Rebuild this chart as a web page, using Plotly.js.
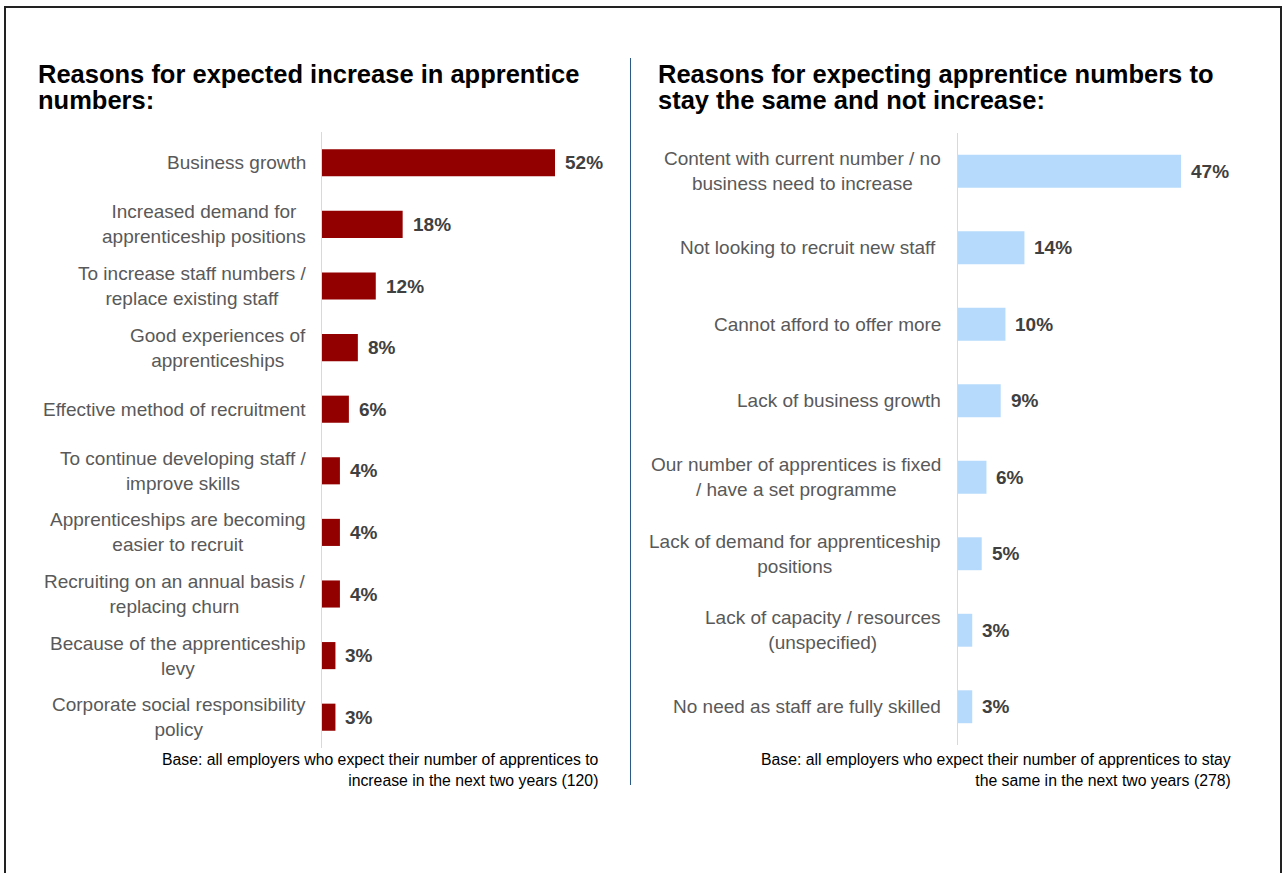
<!DOCTYPE html>
<html>
<head>
<meta charset="utf-8">
<script src="https://cdn.plot.ly/plotly-3.0.1.min.js"></script>
<style>
html,body{margin:0;padding:0;background:#fff;}
#chart{width:1283px;height:873px;}
</style>
</head>
<body>
<div id="chart"></div>
<script>
// ---- Data ----
var leftTitleLines = ["Reasons for expected increase in apprentice", "numbers:"];
var rightTitleLines = ["Reasons for expecting apprentice numbers to", "stay the same and not increase:"];

var leftCategories = [
  "Business growth",
  "Increased demand for<br>apprenticeship positions",
  "To increase staff numbers /<br>replace existing staff",
  "Good experiences of<br>apprenticeships",
  "Effective method of recruitment",
  "To continue developing staff /<br>improve skills",
  "Apprenticeships are becoming<br>easier to recruit",
  "Recruiting on an annual basis /<br>replacing churn",
  "Because of the apprenticeship<br>levy",
  "Corporate social responsibility<br>policy"
];
var leftValues = [52, 18, 12, 8, 6, 4, 4, 4, 3, 3];

var rightCategories = [
  "Content with current number / no<br>business need to increase",
  "Not looking to recruit new staff ",
  "Cannot afford to offer more",
  "Lack of business growth",
  "Our number of apprentices is fixed<br>/ have a set programme",
  "Lack of demand for apprenticeship<br>positions",
  "Lack of capacity / resources<br>(unspecified)",
  "No need as staff are fully skilled"
];
var rightValues = [47, 14, 10, 9, 6, 5, 3, 3];

var leftBase = "Base: all employers who expect their number of apprentices to<br>increase in the next two years (120)";
var rightBase = "Base: all employers who expect their number of apprentices to stay<br>the same in the next two years (278)";

// ---- Layout helpers ----
var W = 1283, H = 873;
function px(x){ return x / W; }
function py(y){ return 1 - y / H; }
var FONT = "Liberation Sans, Arial, Helvetica, sans-serif";

var traces = [
  {
    type: "bar", orientation: "h",
    x: leftValues, y: leftCategories,
    xaxis: "x", yaxis: "y",
    width: 0.44,
    marker: {color: "#930000"},
    hoverinfo: "skip"
  },
  {
    type: "bar", orientation: "h",
    x: rightValues, y: rightCategories,
    xaxis: "x2", yaxis: "y2",
    width: 0.43,
    marker: {color: "#B6DAFB"},
    hoverinfo: "skip"
  }
];

var annotations = [];

// titles
leftTitleLines.forEach(function(t, i){
  annotations.push({xref:"paper", yref:"paper", x:px(36), y:py(74 + i*26),
    xanchor:"left", yanchor:"middle", showarrow:false, text:"<b>"+t+"</b>",
    font:{family:FONT, size:25.5, color:"#000"}});
});
rightTitleLines.forEach(function(t, i){
  annotations.push({xref:"paper", yref:"paper", x:px(656), y:py(74 + i*26),
    xanchor:"left", yanchor:"middle", showarrow:false, text:"<b>"+t+"</b>",
    font:{family:FONT, size:25.5, color:"#000"}});
});

// category labels and value labels
function addLabels(cats, vals, xa, ya, labelX){
  cats.forEach(function(c, i){
    annotations.push({xref:"paper", yref:ya, x:px(labelX), y:c,
      xanchor:"right", yanchor:"middle", align:"center", showarrow:false,
      text:c, font:{family:FONT, size:19, color:"#595959"}});
    annotations.push({xref:xa, yref:ya, x:vals[i], y:c,
      xanchor:"left", yanchor:"middle", xshift:8, showarrow:false,
      text:"<b>"+vals[i]+"%</b>", font:{family:FONT, size:19, color:"#404040"}});
  });
}
addLabels(leftCategories, leftValues, "x", "y", 308);
addLabels(rightCategories, rightValues, "x2", "y2", 943);

// base notes
annotations.push({xref:"paper", yref:"paper", x:px(601), y:py(770),
  xanchor:"right", yanchor:"middle", align:"right", showarrow:false,
  text:leftBase, font:{family:FONT, size:15.8, color:"#000"}});
annotations.push({xref:"paper", yref:"paper", x:px(1233), y:py(770),
  xanchor:"right", yanchor:"middle", align:"right", showarrow:false,
  text:rightBase, font:{family:FONT, size:15.8, color:"#000"}});

var shapes = [
  // frame (left, top, right edges)
  {type:"path", xref:"paper", yref:"paper",
   path:"M " + px(5) + "," + py(880) + " L " + px(5) + "," + py(7) + " L " + px(1281) + "," + py(7) + " L " + px(1281) + "," + py(880),
   line:{color:"#222222", width:2}},
  // divider
  {type:"line", xref:"paper", yref:"paper", x0:px(630.5), x1:px(630.5), y0:py(58), y1:py(785),
   line:{color:"#2A5A86", width:1}}
];

var layout = {
  width: W, height: H,
  margin: {l:0, r:0, t:0, b:0},
  paper_bgcolor: "#fff", plot_bgcolor: "rgba(0,0,0,0)",
  showlegend: false,
  hovermode: false,
  font: {family: FONT},
  xaxis: {domain:[px(322), px(322 + 60*4.481)], range:[0, 60], visible:false, fixedrange:true},
  yaxis: {domain:[py(748), py(132)], type:"category", categoryarray: leftCategories,
          range:[leftCategories.length - 0.5, -0.5], showticklabels:false, ticks:"",
          showgrid:false, zeroline:false, showline:true, linecolor:"#D9D9D9", linewidth:1, anchor:"x"},
  xaxis2: {domain:[px(958), px(958 + 55*4.745)], range:[0, 55], visible:false, fixedrange:true, anchor:"y2"},
  yaxis2: {domain:[py(745), py(133)], type:"category", categoryarray: rightCategories,
           range:[rightCategories.length - 0.5, -0.5], showticklabels:false, ticks:"",
           showgrid:false, zeroline:false, showline:true, linecolor:"#D9D9D9", linewidth:1, anchor:"x2"},
  annotations: annotations,
  shapes: shapes
};

Plotly.newPlot("chart", traces, layout, {displayModeBar:false, staticPlot:true});
</script>
</body>
</html>
